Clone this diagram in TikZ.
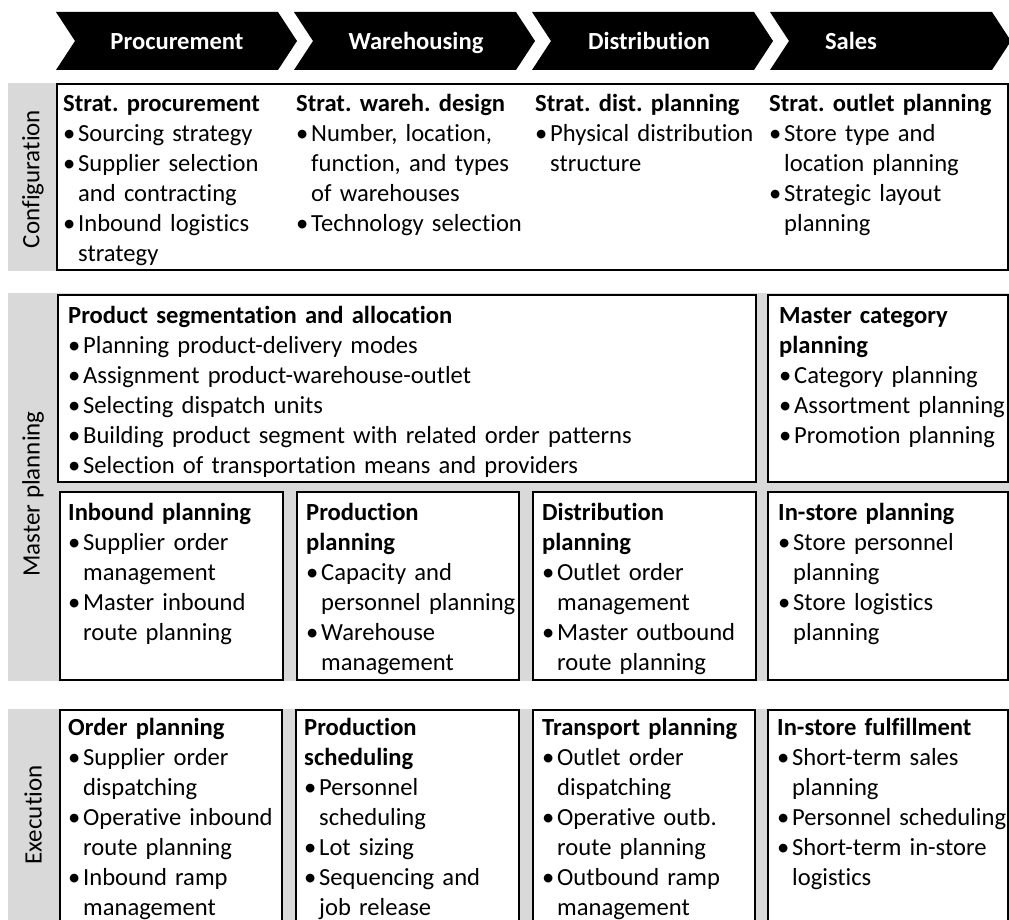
\documentclass[tikz,border=0pt]{standalone}
\usepackage{fontspec}
\setmainfont{Carlito}[Ligatures={NoCommon}]
\usetikzlibrary{positioning}
\definecolor{bandgray}{RGB}{217,217,217}
\newcommand{\bl}{\makebox[15pt][l]{\textbullet}}
\newcommand{\ind}{\hspace*{15pt}}
\frenchspacing

\begin{document}
\begin{tikzpicture}[x=1pt, y=-1pt,
    box/.style={draw, line width=1.6pt, fill=white},
    txt/.style={anchor=base west, inner sep=0pt, align=left, text width=#1,
      font=\fontsize{24.6}{30}\selectfont},
    txt/.default=240pt,
    phase/.style={anchor=base, text=white, font=\fontsize{24.6}{30}\selectfont\bfseries},
    side/.style={rotate=90, font=\fontsize{25}{30}\selectfont}]
  \useasboundingbox (0,0) rectangle (1009,920);
  \clip (0,0) rectangle (1009,920);

  % phases on top
  \foreach \x/\lx/\name/\lbl in {56/177/proc/Procurement, 294/416/wareh/Warehousing,
      532/649/dist/Distribution, 770/851/sales/Sales} {
    \fill (\x,12) -- ++(222,0) -- ++(19,29) -- ++(-19,29) -- ++(-222,0) -- ++(19,-29) -- cycle;
    \node [phase] (\name) at (\lx,50) {\lbl};
  }

  % configuration
  \fill [bandgray] (8,83) rectangle (1009,271);
  \node [side] (cfg) at (33,179) {Configuration};
  \draw [box] (57,84) rectangle (1008,270);
  \node [txt] (sproc) at (63,112) {\textbf{Strat. procurement}\\
    \bl Sourcing strategy\\ \bl Supplier selection\\ \ind and contracting\\
    \bl Inbound logistics\\ \ind strategy};
  \node [txt] (sware) at (296,112) {\textbf{Strat. wareh. design}\\
    \bl Number, location,\\ \ind function, and types\\ \ind of warehouses\\
    \bl Technology selection};
  \node [txt] (sdist) at (535,112) {\textbf{Strat. dist. planning}\\
    \bl Physical distribution\\ \ind structure};
  \node [txt] (sout) at (769,112) {\textbf{Strat. outlet planning}\\
    \bl Store type and\\ \ind location planning\\ \bl Strategic layout\\ \ind planning};

  % master planning
  \fill [bandgray] (8,293) rectangle (1009,681);
  \node [side] (mp) at (33,494) {Master planning};
  \draw [box] (58,295) rectangle (756,482);
  \draw [box] (768,295) rectangle (1008,482);
  \draw [box] (60,492) rectangle (283,680);
  \draw [box] (297,492) rectangle (519,680);
  \draw [box] (533,492) rectangle (756,680);
  \draw [box] (768,492) rectangle (1008,680);
  \node [txt=690pt] (psa) at (68,323) {\textbf{Product segmentation and allocation}\\
    \bl Planning product-delivery modes\\ \bl Assignment product-warehouse-outlet\\
    \bl Selecting dispatch units\\ \bl Building product segment with related order patterns\\
    \bl Selection of transportation means and providers};
  \node [txt] (mcat) at (779,323) {\textbf{Master category}\\ \textbf{planning}\\
    \bl Category planning\\ \bl Assortment planning\\ \bl Promotion planning};
  \node [txt] (inb) at (68,520) {\textbf{Inbound planning}\\
    \bl Supplier order\\ \ind management\\ \bl Master inbound\\ \ind route planning};
  \node [txt] (prodp) at (306,520) {\textbf{Production}\\ \textbf{planning}\\
    \bl Capacity and\\ \ind personnel planning\\ \bl Warehouse\\ \ind management};
  \node [txt] (distp) at (542,520) {\textbf{Distribution}\\ \textbf{planning}\\
    \bl Outlet order\\ \ind management\\ \bl Master outbound\\ \ind route planning};
  \node [txt] (instp) at (778,520) {\textbf{In-store planning}\\
    \bl Store personnel\\ \ind planning\\ \bl Store logistics\\ \ind planning};

  % execution
  \fill [bandgray] (8,709) rectangle (1009,930);
  \node [side] (ex) at (33,815) {Execution};
  \draw [box] (60,710) rectangle (282,940);
  \draw [box] (296,710) rectangle (519,940);
  \draw [box] (533,710) rectangle (755,940);
  \draw [box] (768,710) rectangle (1008,940);
  \node [txt] (ordp) at (68,735) {\textbf{Order planning}\\
    \bl Supplier order\\ \ind dispatching\\ \bl Operative inbound\\ \ind route planning\\
    \bl Inbound ramp\\ \ind management};
  \node [txt] (prods) at (304,735) {\textbf{Production}\\ \textbf{scheduling}\\
    \bl Personnel\\ \ind scheduling\\ \bl Lot sizing\\ \bl Sequencing and\\ \ind job release};
  \node [txt] (trans) at (542,735) {\textbf{Transport planning}\\
    \bl Outlet order\\ \ind dispatching\\ \bl Operative outb.\\ \ind route planning\\
    \bl Outbound ramp\\ \ind management};
  \node [txt] (instf) at (777,735) {\textbf{In-store fulfillment}\\
    \bl Short-term sales\\ \ind planning\\ \bl Personnel scheduling\\
    \bl Short-term in-store\\ \ind logistics};
\end{tikzpicture}
\end{document}
